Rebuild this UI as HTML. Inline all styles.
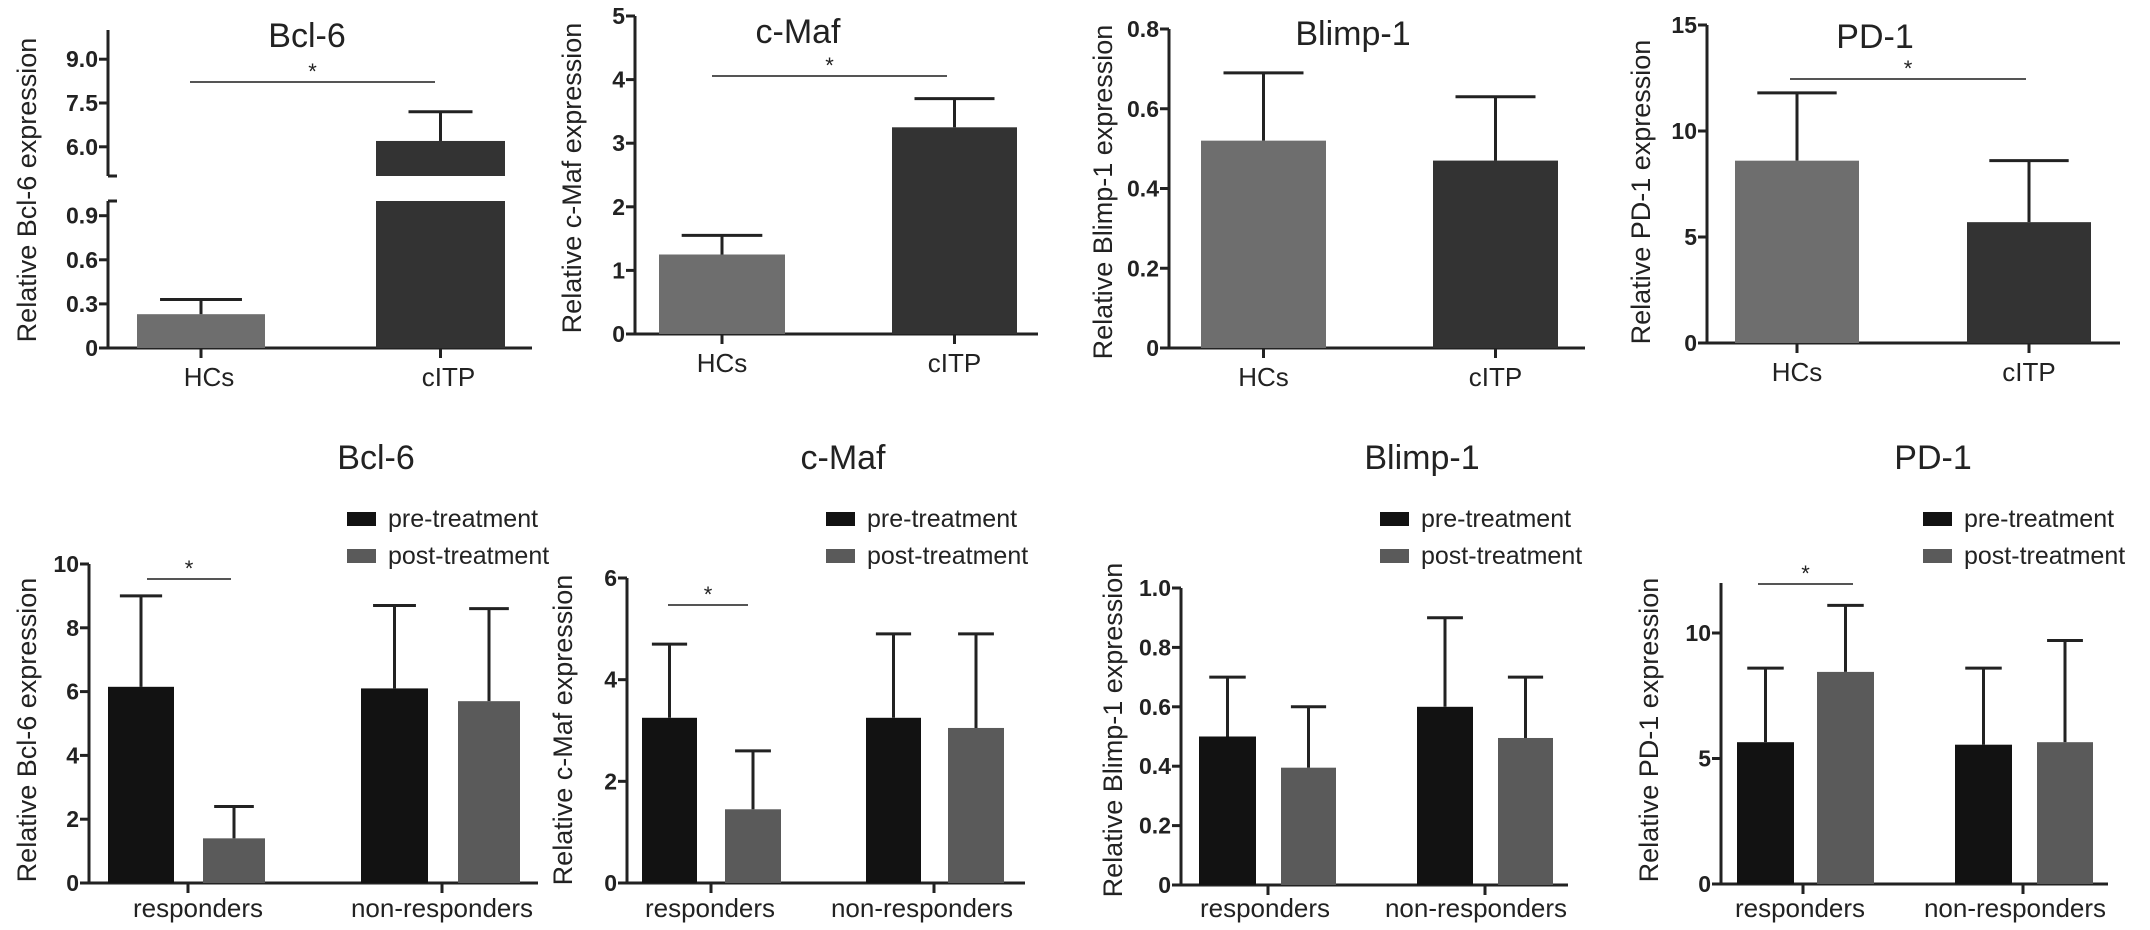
<!DOCTYPE html>
<html><head><meta charset="utf-8"><style>
html,body{margin:0;padding:0;background:#fff;}
svg{display:block;font-family:"Liberation Sans",Arial,sans-serif;}
</style></head><body>
<svg id="fig" width="2150" height="930" viewBox="0 0 2150 930" xmlns="http://www.w3.org/2000/svg"></svg>
<script>
// ---------- data ----------
const topCategories = ["HCs", "cITP"];
const topBcl6 = [0.23, 6.2];
const topBcl6Err = [0.33, 7.2];
const topCmaf = [1.25, 3.25];
const topCmafErr = [1.55, 3.7];
const topBlimp = [0.52, 0.47];
const topBlimpErr = [0.69, 0.63];
const topPd1 = [8.6, 5.7];
const topPd1Err = [11.8, 8.6];

const botCategories = ["responders", "non-responders"];
const seriesNames = ["pre-treatment", "post-treatment"];
const botBcl6Pre = [6.15, 6.1];
const botBcl6PreErr = [9.0, 8.7];
const botBcl6Post = [1.4, 5.7];
const botBcl6PostErr = [2.4, 8.6];
const botCmafPre = [3.25, 3.25];
const botCmafPreErr = [4.7, 4.9];
const botCmafPost = [1.45, 3.05];
const botCmafPostErr = [2.6, 4.9];
const botBlimpPre = [0.5, 0.6];
const botBlimpPreErr = [0.7, 0.9];
const botBlimpPost = [0.395, 0.495];
const botBlimpPostErr = [0.6, 0.7];
const botPd1Pre = [5.65, 5.55];
const botPd1PreErr = [8.6, 8.6];
const botPd1Post = [8.45, 5.65];
const botPd1PostErr = [11.1, 9.7];

const tickBcl6Upper = ["6.0", "7.5", "9.0"];
const tickBcl6Lower = ["0", "0.3", "0.6", "0.9"];
const tickCmafTop = ["0", "1", "2", "3", "4", "5"];
const tickBlimpTop = ["0", "0.2", "0.4", "0.6", "0.8"];
const tickPd1Top = ["0", "5", "10", "15"];
const tickBcl6Bot = ["0", "2", "4", "6", "8", "10"];
const tickCmafBot = ["0", "2", "4", "6"];
const tickBlimpBot = ["0", "0.2", "0.4", "0.6", "0.8", "1.0"];
const tickPd1Bot = ["0", "5", "10"];

// ---------- helpers ----------
const svg = document.getElementById('fig');
const NS = "http://www.w3.org/2000/svg";
function mk(tag, attrs, parent) {
  const e = document.createElementNS(NS, tag);
  for (const k in attrs) e.setAttribute(k, attrs[k]);
  (parent || svg).appendChild(e);
  return e;
}
function line(g, x1, y1, x2, y2, w, c, name) {
  const l = mk('line', {x1, y1, x2, y2, stroke: c || '#222', 'stroke-width': w || 3}, g);
  
  
  return l;
}
function text(g, x, y, s, size, anchor, name, extra) {
  const t = mk('text', Object.assign({x, y, 'font-size': size, 'text-anchor': anchor || 'middle', fill: '#222'}, extra || {}), g);
  t.textContent = s;
  
  
  return t;
}
function bar(g, x0, x1, yScale, v, err, color, name) {
  const y = yScale(v), y0 = yScale(0);
  const r = mk('rect', {x: x0, y: y, width: x1 - x0, height: y0 - y, fill: color}, g);
  
  
  const cx = (x0 + x1) / 2, ye = yScale(err), hw = (x1 - x0) * 0.32;
  line(g, cx, y, cx, ye, 3, '#222', name + '-error-bar');
  line(g, cx - hw, ye, cx + hw, ye, 3, '#222', name + '-error-cap');
}
function yTicks(g, ax, yScale, labels, name) {
  labels.forEach(l => {
    const y = yScale(parseFloat(l));
    line(g, ax - 9, y, ax, y, 3, '#222', name + '-tick');
    text(g, ax - 10, y + 8, l, 23, 'end', name + '-tick-label', {'font-weight': 'bold'});
  });
}
function yTitle(g, x, y, s) {
  text(g, x, y, s, 27, 'middle', 'y-axis-title', {transform: `rotate(-90 ${x} ${y})`});
}
function sig(g, x1, x2, y) {
  line(g, x1, y, x2, y, 2, '#555', 'significance-line');
  text(g, (x1 + x2) / 2, y - 3, '*', 22, 'middle', 'significance-star');
}
function lin(v0, y0, v1, y1) { return v => y0 + (v - v0) * (y1 - y0) / (v1 - v0); }

// ---------- top panels (simple) ----------
function topPanel(cfg) {
  const g = mk('g', {});
  
  
  const ys = lin(0, cfg.y0, cfg.vmax, cfg.ytop);
  line(g, cfg.ax, cfg.ytop, cfg.ax, cfg.y0 + 1.5, 3, '#222', 'y-axis');
  line(g, cfg.ax, cfg.y0, cfg.axEnd, cfg.y0, 3, '#222', 'x-axis');
  yTicks(g, cfg.ax, ys, cfg.ticks, 'y');
  const cols = ['#6e6e6e', '#333'];
  cfg.bars.forEach((b, i) => {
    bar(g, b[0], b[1], ys, cfg.vals[i], cfg.errs[i], cols[i], 'bar-' + topCategories[i].toLowerCase());
    const cx = (b[0] + b[1]) / 2;
    line(g, cx, cfg.y0, cx, cfg.y0 + 10, 3, '#222', 'x-tick');
    text(g, cx, cfg.y0 + 38, topCategories[i], 26, 'middle', 'x-tick-label');
  });
  text(g, cfg.tx, cfg.ty, cfg.title, 34, 'middle', 'chart-title');
  yTitle(g, cfg.ytx, cfg.yty, cfg.ytitle);
  if (cfg.sig) sig(g, cfg.sig[0], cfg.sig[1], cfg.sig[2]);
}

// Bcl-6 top with broken axis
(function () {
  const g = mk('g', {});
  
  
  const ax = 108, y0 = 348;
  const lower = lin(0, y0, 1.0, 201);
  const upper = lin(5.0, 176, 10.0, 30);
  line(g, ax, 30, ax, 176, 3, '#222', 'y-axis-upper');
  line(g, ax, 176, ax + 9, 176, 3, '#222', 'axis-break-mark');
  line(g, ax, 201, ax + 9, 201, 3, '#222', 'axis-break-mark');
  line(g, ax, 201, ax, y0 + 1.5, 3, '#222', 'y-axis-lower');
  line(g, ax, y0, 532, y0, 3, '#222', 'x-axis');
  yTicks(g, ax, upper, tickBcl6Upper, 'y-upper');
  yTicks(g, ax, lower, tickBcl6Lower, 'y-lower');
  const xb = [[137, 265], [376, 505]];
  bar(g, xb[0][0], xb[0][1], lower, topBcl6[0], topBcl6Err[0], '#6e6e6e', 'bar-hcs');
  const r1 = mk('rect', {x: xb[1][0], y: 201, width: xb[1][1] - xb[1][0], height: y0 - 201, fill: '#333'}, g);
  
  
  const yt = upper(topBcl6[1]);
  const r2 = mk('rect', {x: xb[1][0], y: yt, width: xb[1][1] - xb[1][0], height: 176 - yt, fill: '#333'}, g);
  
  
  const cx = (xb[1][0] + xb[1][1]) / 2, ye = upper(topBcl6Err[1]);
  line(g, cx, yt, cx, ye, 3, '#222', 'bar-citp-error-bar');
  line(g, cx - 32, ye, cx + 32, ye, 3, '#222', 'bar-citp-error-cap');
  xb.forEach((b, i) => {
    const c = (b[0] + b[1]) / 2;
    line(g, c, y0, c, y0 + 10, 3, '#222', 'x-tick');
    text(g, c + 8, y0 + 38, topCategories[i], 26, 'middle', 'x-tick-label');
  });
  text(g, 307, 47, 'Bcl-6', 34, 'middle', 'chart-title');
  yTitle(g, 36, 190, 'Relative Bcl-6 expression');
  sig(g, 190, 435, 82);
})();

topPanel({name: 'cmaf-hc-vs-citp-panel', ax: 635, y0: 334, ytop: 16, vmax: 5, axEnd: 1038, ticks: tickCmafTop,
  bars: [[659, 785], [892, 1017]], vals: topCmaf, errs: topCmafErr, tx: 798, ty: 43, title: 'c-Maf',
  ytx: 581, yty: 178, ytitle: 'Relative c-Maf expression', sig: [712, 947, 76]});
topPanel({name: 'blimp1-hc-vs-citp-panel', ax: 1169, y0: 348, ytop: 29, vmax: 0.8, axEnd: 1585, ticks: tickBlimpTop,
  bars: [[1201, 1326], [1433, 1558]], vals: topBlimp, errs: topBlimpErr, tx: 1353, ty: 45, title: 'Blimp-1',
  ytx: 1112, yty: 192, ytitle: 'Relative  Blimp-1 expression'});
topPanel({name: 'pd1-hc-vs-citp-panel', ax: 1707, y0: 343, ytop: 25, vmax: 15, axEnd: 2120, ticks: tickPd1Top,
  bars: [[1735, 1859], [1967, 2091]], vals: topPd1, errs: topPd1Err, tx: 1875, ty: 48, title: 'PD-1',
  ytx: 1650, yty: 192, ytitle: 'Relative PD-1 expression', sig: [1790, 2026, 79]});

// ---------- bottom panels (grouped) ----------
function botPanel(cfg) {
  const g = mk('g', {});
  
  
  const ys = lin(0, cfg.y0, cfg.vref, cfg.yref);
  line(g, cfg.ax, cfg.ytop, cfg.ax, cfg.y0 + 1.5, 3, '#222', 'y-axis');
  line(g, cfg.ax, cfg.y0, cfg.axEnd, cfg.y0, 3, '#222', 'x-axis');
  yTicks(g, cfg.ax, ys, cfg.ticks, 'y');
  const cols = ['#121212', '#5a5a5a'];
  const vals = [cfg.pre, cfg.post], errs = [cfg.preErr, cfg.postErr];
  cfg.bars.forEach((b, k) => {
    const gi = Math.floor(k / 2), si = k % 2;
    bar(g, b[0], b[1], ys, vals[si][gi], errs[si][gi], cols[si], 'bar-' + botCategories[gi] + '-' + seriesNames[si]);
  });
  cfg.cticks.forEach((c, i) => {
    line(g, c, cfg.y0, c, cfg.y0 + 10, 3, '#222', 'x-tick');
    text(g, cfg.clab[i], 917, botCategories[i], 26, 'middle', 'x-tick-label');
  });
  text(g, cfg.tx, 469, cfg.title, 34, 'middle', 'chart-title');
  yTitle(g, cfg.ytx, 730, cfg.ytitle);
  const lg = mk('g', {}, g);
  
  
  seriesNames.forEach((s, i) => {
    const sy = 512 + i * 37;
    const sw = mk('rect', {x: cfg.lx, y: sy, width: 29, height: 14, fill: cols[i]}, lg);
    
    
    text(lg, cfg.lx + 41, sy + 15, s, 25, 'start', 'legend-entry-' + s);
  });
  if (cfg.sig) sig(g, cfg.sig[0], cfg.sig[1], cfg.sig[2]);
}

botPanel({name: 'bcl6-treatment-panel', ax: 89, y0: 883, ytop: 564, vref: 10, yref: 564, axEnd: 538, ticks: tickBcl6Bot,
  bars: [[108, 174], [203, 265], [361, 428], [458, 520]], pre: botBcl6Pre, preErr: botBcl6PreErr, post: botBcl6Post, postErr: botBcl6PostErr,
  cticks: [188, 442], clab: [198, 442], tx: 376, title: 'Bcl-6', ytx: 36, ytitle: 'Relative Bcl-6 expression', lx: 347, sig: [147, 231, 579]});
botPanel({name: 'cmaf-treatment-panel', ax: 627, y0: 883, ytop: 578, vref: 6, yref: 578, axEnd: 1025, ticks: tickCmafBot,
  bars: [[642, 697], [725, 781], [866, 921], [948, 1004]], pre: botCmafPre, preErr: botCmafPreErr, post: botCmafPost, postErr: botCmafPostErr,
  cticks: [711, 934], clab: [710, 922], tx: 843, title: 'c-Maf', ytx: 572, ytitle: 'Relative c-Maf expression', lx: 826, sig: [668, 748, 605]});
botPanel({name: 'blimp1-treatment-panel', ax: 1181, y0: 885, ytop: 588, vref: 1.0, yref: 588, axEnd: 1568, ticks: tickBlimpBot,
  bars: [[1199, 1256], [1281, 1336], [1417, 1473], [1498, 1553]], pre: botBlimpPre, preErr: botBlimpPreErr, post: botBlimpPost, postErr: botBlimpPostErr,
  cticks: [1268, 1485], clab: [1265, 1476], tx: 1422, title: 'Blimp-1', ytx: 1122, ytitle: 'Relative  Blimp-1 expression', lx: 1380});
botPanel({name: 'pd1-treatment-panel', ax: 1721, y0: 884, ytop: 583, vref: 10, yref: 633, axEnd: 2108, ticks: tickPd1Bot,
  bars: [[1737, 1794], [1817, 1874], [1955, 2012], [2037, 2093]], pre: botPd1Pre, preErr: botPd1PreErr, post: botPd1Post, postErr: botPd1PostErr,
  cticks: [1803, 2023], clab: [1800, 2015], tx: 1933, title: 'PD-1', ytx: 1658, ytitle: 'Relative PD-1 expression', lx: 1923, sig: [1758, 1853, 584]});
</script>
</body></html>
